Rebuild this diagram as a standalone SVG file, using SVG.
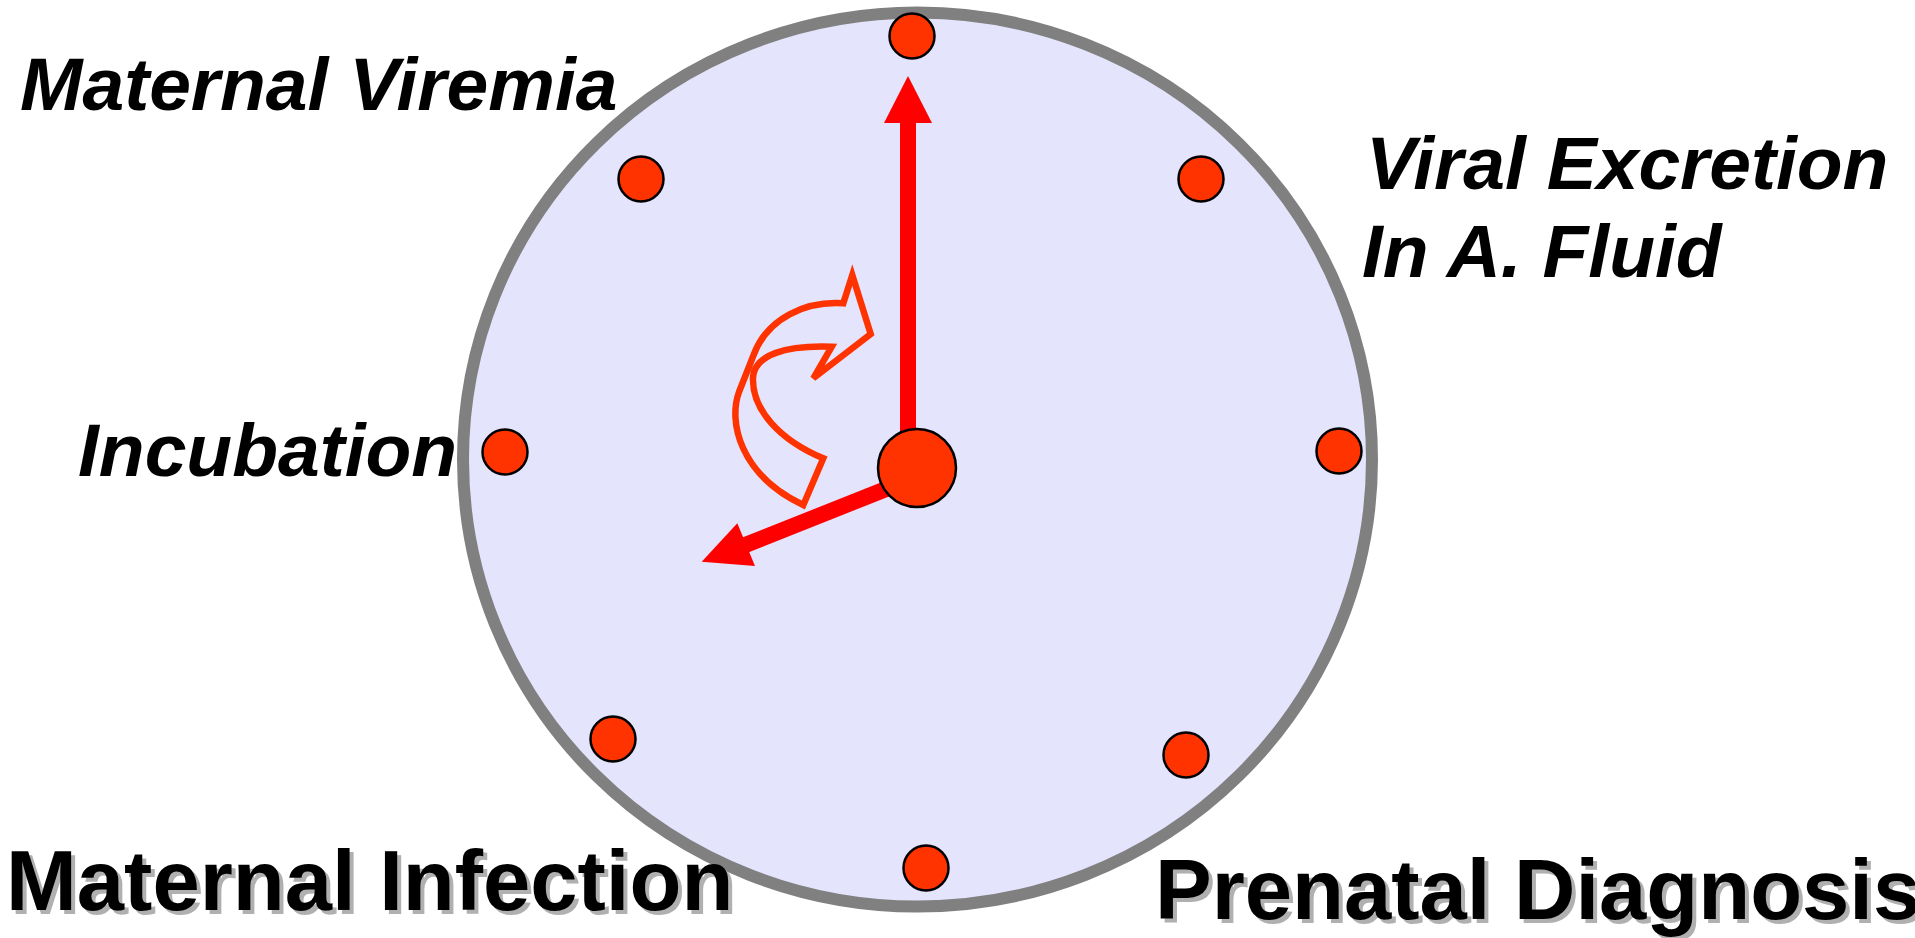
<svg xmlns="http://www.w3.org/2000/svg" width="1915" height="938" viewBox="0 0 1915 938">
<style>
.lbl{font-family:"Liberation Sans",Arial,sans-serif;font-weight:bold;font-style:italic;font-size:75px;fill:#000}
.big{font-family:"Liberation Sans",Arial,sans-serif;font-weight:bold;font-size:85px}
.sh{fill:#B0B0B0}
.fg{fill:#000}
.dot{fill:#FF3300;stroke:#000;stroke-width:2.5}
.hand{fill:#FF0000}
</style>
<rect width="1915" height="938" fill="#FFFFFF"/>
<g id="clock-face">
<ellipse cx="917.5" cy="459.5" rx="454.5" ry="447" fill="#E4E4FC" stroke="#808080" stroke-width="12"/>
</g>
<g id="dots">
<circle class="dot" cx="912" cy="36" r="22.5"/>
<circle class="dot" cx="641" cy="179" r="22.5"/>
<circle class="dot" cx="1201" cy="179" r="22.5"/>
<circle class="dot" cx="505" cy="452" r="22.5"/>
<circle class="dot" cx="1339" cy="451" r="22.5"/>
<circle class="dot" cx="613" cy="739" r="22.5"/>
<circle class="dot" cx="926" cy="868" r="22.5"/>
<circle class="dot" cx="1186" cy="755" r="22.5"/>
</g>
<g id="connectors">
<path id="curved-arrow" d="M803.3,505 L823.3,458.3 C780,440 752,410 753,378 C754,355 785,345 831.7,346.7 L813.3,378.3 L870.7,334 L852.3,275 L843.3,303.3 C805,301 768,318 754,354 L739,392 C728,422 740,475 803.3,505 Z" fill="none" stroke="#FF3300" stroke-width="6.5" stroke-linejoin="miter"/>
<g id="minute-hand">
<rect class="hand" x="900" y="120" width="16" height="330"/>
<polygon class="hand" points="908,76 932,123 884,123"/>
</g>
<g id="hour-hand">
<line x1="744" y1="545.5" x2="900" y2="483.5" stroke="#FF0000" stroke-width="16"/>
<polygon class="hand" points="701.7,561.7 737.3,523.3 755,566"/>
</g>
</g>
<g id="hub">
<circle class="dot" cx="917" cy="468" r="39"/>
</g>
<g id="label-maternal-viremia"><text class="lbl" x="20" y="110">Maternal Viremia</text></g>
<g id="label-viral-excretion"><text class="lbl" x="1366" y="189">Viral Excretion</text><text class="lbl" x="1362" y="277">In A. Fluid</text></g>
<g id="label-incubation"><text class="lbl" x="78" y="476">Incubation</text></g>
<g id="label-maternal-infection"><text class="big sh" x="10" y="914">Maternal Infection</text><text class="big fg" x="6" y="910">Maternal Infection</text></g>
<g id="label-prenatal-diagnosis"><text class="big sh" x="1159" y="923">Prenatal Diagnosis</text><text class="big fg" x="1155" y="919">Prenatal Diagnosis</text></g>
</svg>
